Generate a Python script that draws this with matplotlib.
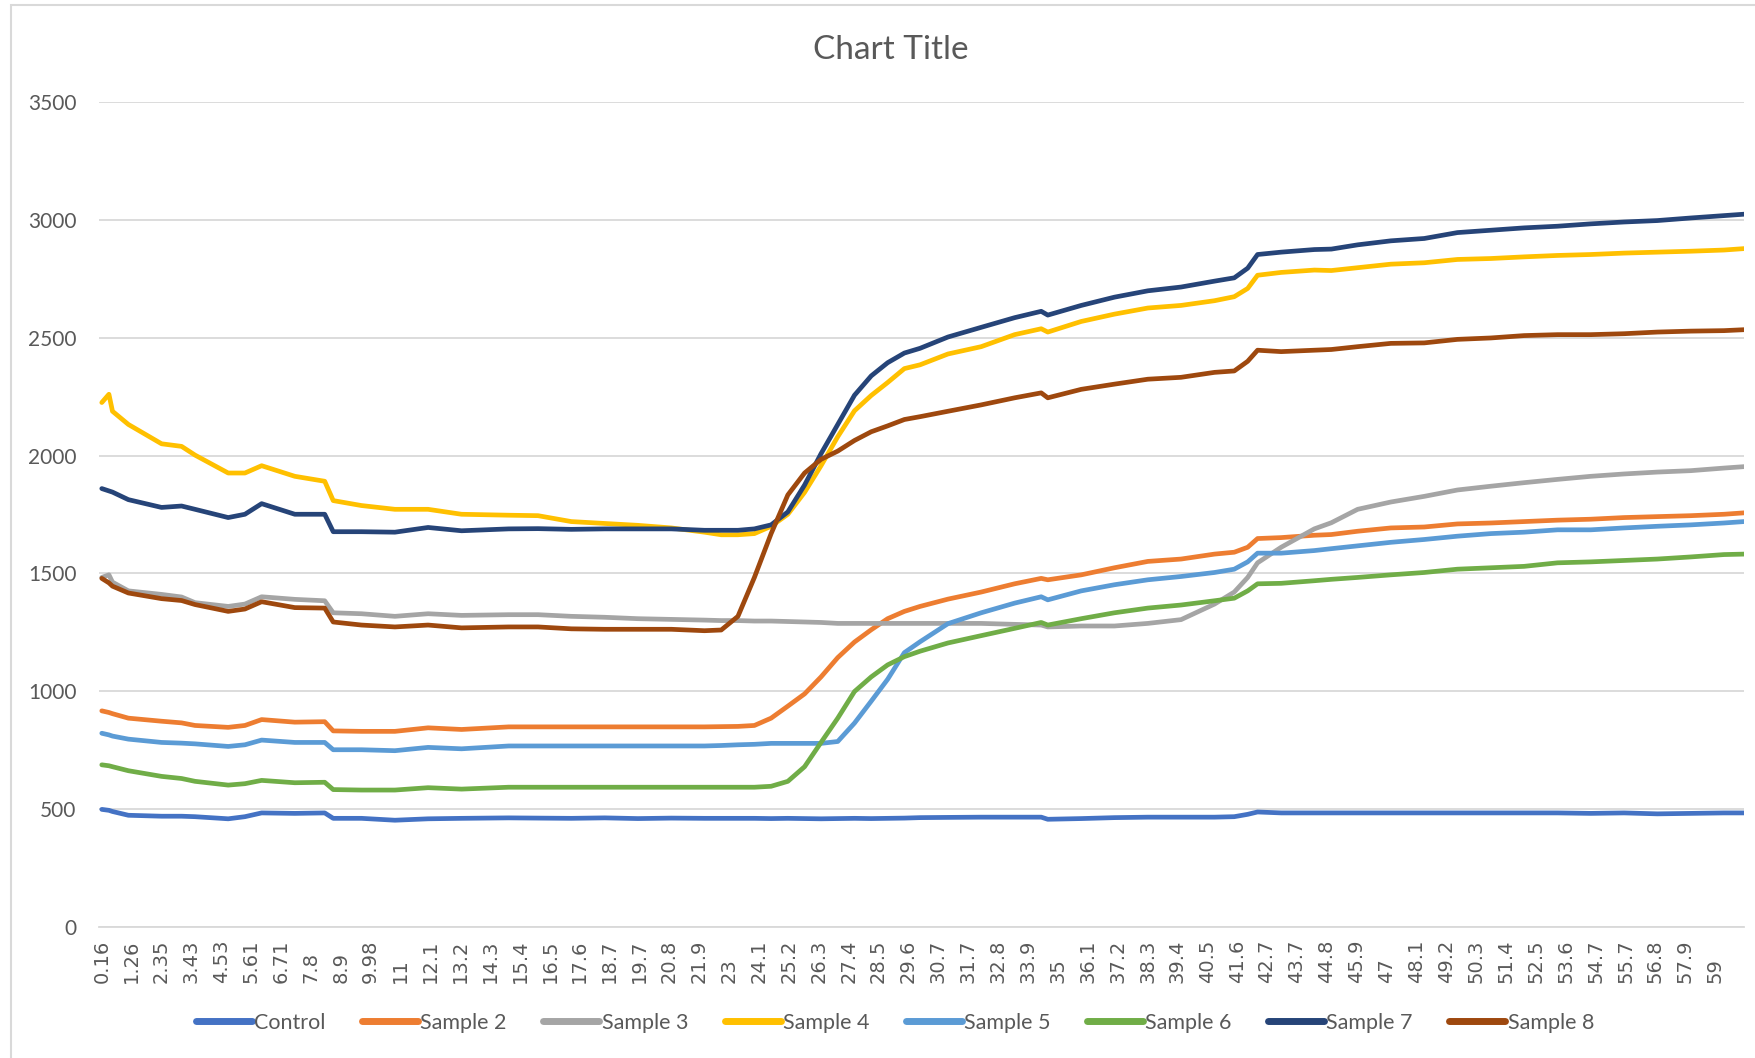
import matplotlib
matplotlib.use('Agg')
import matplotlib.pyplot as plt
from matplotlib.patches import Rectangle
import numpy as np

# time points (x)
time = [0.16, 0.42, 0.55, 1.13, 2.34, 3.07, 3.56, 4.77, 5.38, 5.99,
        7.20, 8.29, 8.60, 9.63, 10.85, 12.06, 13.28, 15.0, 16.07, 17.28,
        18.50, 19.71, 20.93, 22.14, 22.75, 23.36, 23.96, 24.57, 25.18, 25.79,
        26.39, 27.00, 27.61, 28.22, 28.82, 29.43, 30.0, 31.02, 32.23, 33.45,
        34.42, 34.66, 35.88, 37.09, 38.31, 39.52, 40.74, 41.46, 41.95, 42.31,
        43.17, 44.38, 45.0, 45.96, 47.17, 48.39, 49.60, 50.82, 52.03, 53.25,
        54.46, 55.68, 56.89, 58.11, 59.32, 60.05]

control = [499, 495, 490, 474, 470, 470, 468, 459, 468, 484,
           482, 484, 461, 461, 453, 459, 461, 463, 462, 461,
           463, 460, 462, 461, 461, 461, 461, 460, 461, 460,
           459, 460, 461, 460, 461, 462, 464, 465, 466, 466,
           466, 457, 460, 464, 466, 466, 466, 468, 478, 488,
           484, 484, 484, 484, 484, 484, 484, 484, 484, 484,
           482, 484, 480, 482, 484, 484]

sample2 = [917, 910, 905, 886, 873, 866, 855, 847, 855, 880,
           869, 871, 832, 830, 830, 845, 838, 849, 849, 849,
           849, 849, 849, 849, 850, 851, 855, 886, 937, 989,
           1061, 1143, 1209, 1261, 1308, 1339, 1360, 1391, 1421, 1456,
           1479, 1473, 1494, 1524, 1551, 1561, 1582, 1590, 1611, 1648,
           1652, 1662, 1665, 1679, 1693, 1697, 1710, 1714, 1720, 1726,
           1730, 1737, 1741, 1745, 1751, 1757]

sample3 = [1483, 1494, 1463, 1426, 1411, 1400, 1376, 1360, 1370, 1401,
           1390, 1384, 1333, 1329, 1318, 1329, 1322, 1325, 1325, 1318,
           1314, 1308, 1305, 1302, 1300, 1300, 1298, 1298, 1296, 1294,
           1292, 1288, 1288, 1288, 1288, 1288, 1288, 1288, 1288, 1284,
           1281, 1273, 1277, 1277, 1288, 1304, 1370, 1421, 1483, 1545,
           1611, 1689, 1715, 1772, 1803, 1827, 1854, 1870, 1885, 1899,
           1912, 1922, 1930, 1936, 1947, 1953]

sample4 = [2225, 2260, 2188, 2132, 2050, 2039, 2002, 1926, 1926, 1957,
           1912, 1891, 1809, 1788, 1772, 1772, 1751, 1747, 1745, 1720,
           1712, 1704, 1693, 1675, 1664, 1664, 1669, 1700, 1751, 1844,
           1957, 2080, 2190, 2255, 2310, 2369, 2385, 2431, 2462, 2513,
           2538, 2524, 2569, 2600, 2626, 2637, 2657, 2674, 2709, 2765,
           2777, 2787, 2785, 2797, 2812, 2818, 2832, 2836, 2843, 2849,
           2853, 2859, 2863, 2867, 2872, 2878]

sample5 = [822, 815, 810, 797, 783, 780, 777, 766, 773, 793,
           783, 783, 752, 752, 748, 762, 756, 768, 768, 768,
           768, 768, 768, 768, 770, 773, 775, 779, 779, 779,
           779, 787, 865, 958, 1051, 1164, 1210, 1287, 1333, 1374,
           1401, 1388, 1426, 1452, 1473, 1487, 1504, 1518, 1549, 1586,
           1586, 1597, 1605, 1617, 1632, 1644, 1658, 1669, 1675, 1685,
           1685, 1693, 1700, 1706, 1714, 1720]

sample6 = [688, 684, 680, 663, 639, 630, 618, 602, 608, 622,
           612, 614, 583, 581, 581, 591, 585, 593, 593, 593,
           593, 593, 593, 593, 593, 593, 593, 597, 618, 680,
           783, 886, 999, 1061, 1112, 1147, 1170, 1205, 1236, 1267,
           1292, 1281, 1308, 1333, 1353, 1366, 1384, 1395, 1426, 1456,
           1458, 1469, 1475, 1483, 1494, 1504, 1518, 1524, 1530, 1545,
           1549, 1555, 1561, 1570, 1580, 1582]

sample7 = [1860, 1850, 1845, 1813, 1780, 1786, 1772, 1737, 1751, 1796,
           1751, 1751, 1677, 1677, 1675, 1695, 1681, 1689, 1690, 1687,
           1689, 1689, 1689, 1683, 1683, 1683, 1689, 1706, 1761, 1875,
           2008, 2132, 2256, 2338, 2394, 2435, 2455, 2503, 2544, 2585,
           2612, 2596, 2637, 2672, 2699, 2715, 2740, 2754, 2795, 2853,
           2863, 2874, 2876, 2894, 2911, 2921, 2946, 2956, 2966, 2973,
           2983, 2991, 2997, 3008, 3018, 3024]

sample8 = [1479, 1460, 1446, 1417, 1393, 1385, 1368, 1339, 1349, 1380,
           1355, 1353, 1294, 1281, 1273, 1281, 1269, 1273, 1273, 1265,
           1263, 1263, 1263, 1257, 1260, 1318, 1483, 1669, 1833, 1926,
           1984, 2019, 2064, 2101, 2126, 2153, 2165, 2188, 2215, 2245,
           2266, 2245, 2281, 2303, 2324, 2332, 2353, 2359, 2400, 2447,
           2441, 2447, 2450, 2462, 2476, 2478, 2493, 2499, 2509, 2513,
           2513, 2517, 2524, 2528, 2530, 2534]

names = ['Control', 'Sample 2', 'Sample 3', 'Sample 4',
         'Sample 5', 'Sample 6', 'Sample 7', 'Sample 8']
colors = ['#4472C4', '#ED7D31', '#A5A5A5', '#FFC000',
          '#5B9BD5', '#70AD47', '#264478', '#9E480E']

# category labels shown on the x axis
x_labels = ['0.16', '1.26', '2.35', '3.43', '4.53', '5.61', '6.71', '7.8',
            '8.9', '9.98', '11', '12.1', '13.2', '14.3', '15.4', '16.5',
            '17.6', '18.7', '19.7', '20.8', '21.9', '23', '24.1', '25.2',
            '26.3', '27.4', '28.5', '29.6', '30.7', '31.7', '32.8', '33.9',
            '35', '36.1', '37.2', '38.3', '39.4', '40.5', '41.6', '42.7',
            '43.7', '44.8', '45.9', '47', '48.1', '49.2', '50.3', '51.4',
            '52.5', '53.6', '54.7', '55.7', '56.8', '57.9', '59']

text_col = '#595959'
grid_col = '#D9D9D9'

fig = plt.figure(figsize=(17.55, 10.58), dpi=100)
fig.patches.append(Rectangle((11 / 1755, -0.01), 1.0, 1 - 4.5 / 1058 + 0.01,
                             transform=fig.transFigure, fill=False,
                             edgecolor=grid_col, lw=1.5))
ax = fig.add_axes([98.5 / 1755, 1 - 927 / 1058, (1744 - 98.5) / 1755, (927 - 102) / 1058])

series = [control, sample2, sample3, sample4, sample5, sample6, sample7, sample8]
for vals, name, col in zip(series, names, colors):
    ax.plot(time, vals, color=col, lw=3.4, label=name, solid_capstyle='round')

ax.set_ylim(0, 3500)
ax.set_xlim(0.04, 60.05)
ax.set_yticks(np.arange(0, 3501, 500))
ax.yaxis.grid(True, color=grid_col, lw=1.3)
ax.set_axisbelow(True)
for s in ['top', 'right', 'left']:
    ax.spines[s].set_visible(False)
ax.spines['bottom'].set_color(grid_col)
ax.spines['bottom'].set_linewidth(1.3)

ax.set_xticks(np.linspace(0.16, 59.0, len(x_labels)))
ax.set_xticklabels(x_labels, rotation=90, fontsize=14, color=text_col,
                   family='DejaVu Sans')
ax.tick_params(axis='x', length=0, pad=40)
for lab in ax.get_xticklabels():
    lab.set_va('bottom')
ax.tick_params(axis='y', length=0, pad=16, labelsize=15, labelcolor=text_col)
for lab in ax.get_yticklabels():
    lab.set_family('Lato')

fig.text(796 / 1568, 1 - 50 / 1058, 'Chart Title', ha='center', va='center',
         fontsize=24, color=text_col, family='Lato')

leg = fig.legend(loc='center', bbox_to_anchor=(0.51, 1 - 1023 / 1058), ncol=8,
                 frameon=False, prop={'family': 'Lato', 'size': 15.5},
                 handlelength=2.6, handletextpad=0.1, columnspacing=1.7)
for t in leg.get_texts():
    t.set_color(text_col)
for h in leg.get_lines():
    h.set_linewidth(5)

fig.savefig('out.png', dpi=100)
